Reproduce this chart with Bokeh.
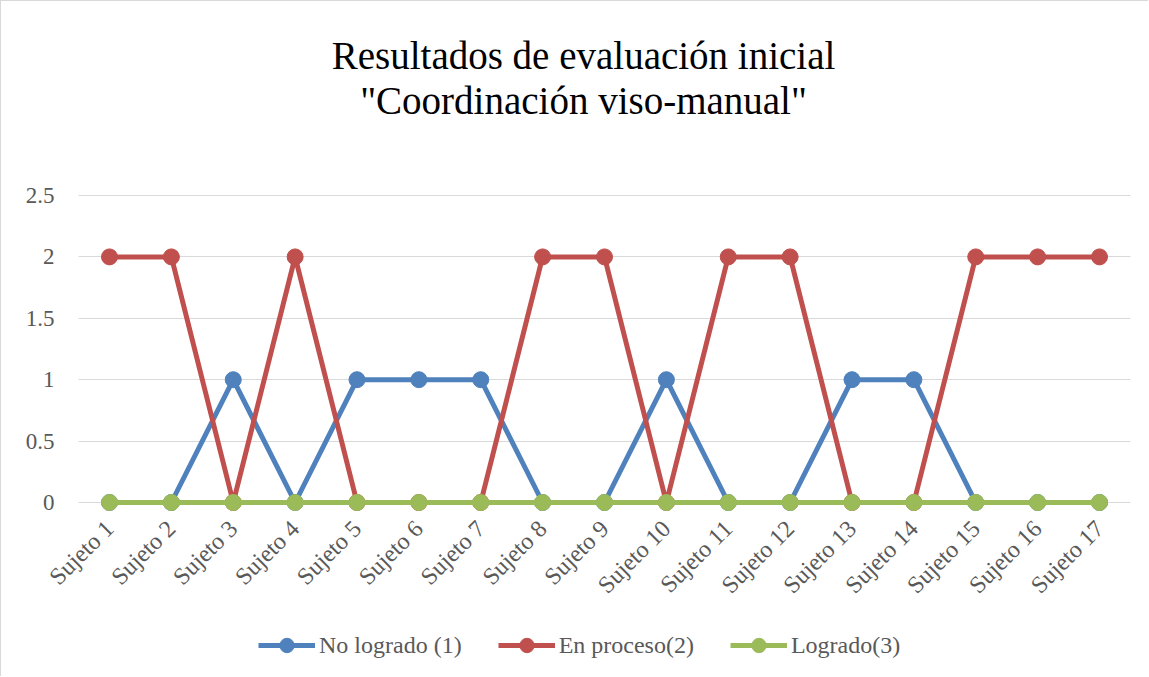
from bokeh.plotting import figure
from bokeh.models import Range1d, Legend, LegendItem, Label, FixedTicker
from bokeh.embed import file_html
from bokeh.resources import INLINE
import math

subjects = [f"Sujeto {i}" for i in range(1, 18)]
no_logrado = [0, 0, 1, 0, 1, 1, 1, 0, 0, 1, 0, 0, 1, 1, 0, 0, 0]
en_proceso = [2, 2, 0, 2, 0, 0, 0, 2, 2, 0, 2, 2, 0, 0, 2, 2, 2]
logrado = [0] * 17
series_names = ["No logrado (1)", "En proceso(2)", "Logrado(3)"]
series_colors = ["#4F81BD", "#C0504D", "#9BBB59"]
y_ticks = [0, 0.5, 1, 1.5, 2, 2.5]
title_lines = ["Resultados de evaluación inicial", "\"Coordinación viso-manual\""]

FONT = "Liberation Serif"
GREY = "#595959"

# category positions 1..N on a numeric scale
positions = list(range(1, len(subjects) + 1))

# layout in pixels: the frame fills the whole canvas; value 0 sits at page
# y=502 and 2.5 at y=195; first category at page x=109, last at x=1099
H, W = 676, 1148
Y0_PX, Y25_PX = 502, 195
X1_PX, XN_PX = 109, 1099
py = (Y0_PX - Y25_PX) / 2.5
px = (XN_PX - X1_PX) / (len(subjects) - 1)
y_end = 2.5 + (Y25_PX - 1) / py
y_start = -((H + 1) - Y0_PX) / py
x_start = 1 - (X1_PX - 1) / px
x_end = 1 + ((W + 1) - X1_PX) / px

p = figure(
    width=W, height=H,
    x_range=Range1d(x_start, x_end),
    y_range=Range1d(y_start, y_end),
    output_backend="svg", toolbar_location=None,
    min_border_left=0, min_border_right=0, min_border_top=0, min_border_bottom=0,
    styles={"border-left": "1px solid #D9D9D9", "border-top": "1px solid #D9D9D9"},
)
p.title = None
p.outline_line_color = None
p.background_fill_color = "white"
p.border_fill_color = "white"

band = (0.5, len(subjects) + 0.5)

p.xgrid.grid_line_color = None
p.yaxis.ticker = FixedTicker(ticks=y_ticks)
grid = p.ygrid[0]
grid.grid_line_color = "#D9D9D9"
grid.grid_line_width = 1
if "cross_bounds" in grid.properties():
    grid.cross_bounds = band
else:
    grid.grid_line_color = None
    p.segment(x0=[band[0]] * len(y_ticks), x1=[band[1]] * len(y_ticks),
              y0=y_ticks, y1=y_ticks, line_color="#D9D9D9", line_width=1)

p.xaxis.ticker = FixedTicker(ticks=positions)
p.xaxis.major_label_overrides = {pos: name for pos, name in zip(positions, subjects)}
p.xaxis.fixed_location = 0
p.yaxis.fixed_location = band[0]
for ax in (p.xaxis[0], p.yaxis[0]):
    ax.axis_line_color = None
    ax.major_tick_line_color = None
    ax.minor_tick_line_color = None
    ax.major_label_text_font = FONT
    ax.major_label_text_color = GREY
p.yaxis.major_label_text_font_size = "23px"
p.xaxis.major_label_text_font_size = "24px"
p.yaxis.major_label_standoff = 18
p.xaxis.major_label_standoff = 16
p.xaxis.major_label_orientation = math.pi / 4

items = []
for name, vals, col in zip(series_names, [no_logrado, en_proceso, logrado], series_colors):
    l = p.line(positions, vals, line_color=col, line_width=5)
    s = p.scatter(positions, vals, size=16, fill_color=col, line_color=col)
    items.append(LegendItem(label=name, renderers=[l, s]))

legend = Legend(
    items=items, orientation="horizontal", location=(257, 14),
    padding=0, margin=0, spacing=36, label_standoff=4,
    glyph_width=57, glyph_height=36,
    label_text_font=FONT, label_text_color=GREY, label_text_font_size="24px",
    border_line_color=None, background_fill_alpha=0,
)
p.add_layout(legend, "center")

for i, t in enumerate(title_lines):
    p.add_layout(Label(
        x=582, y=(H + 1) - 55 - 45 * i, x_units="screen", y_units="screen", text=t,
        text_align="center", text_baseline="middle",
        text_font=FONT, text_font_size="39px", text_color="#000000",
    ))

open("out.html", "w").write(file_html(p, INLINE))
